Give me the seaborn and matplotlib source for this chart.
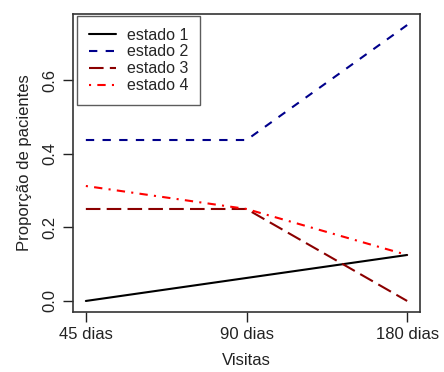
import matplotlib
matplotlib.use("Agg")
import matplotlib.pyplot as plt
import seaborn as sns
import pandas as pd

visitas = ["45 dias", "90 dias", "180 dias"]
estado_1 = [0.0, 0.0625, 0.125]
estado_2 = [0.4375, 0.4375, 0.75]
estado_3 = [0.25, 0.25, 0.0]
estado_4 = [0.3125, 0.25, 0.125]
estados = ["estado 1", "estado 2", "estado 3", "estado 4"]

sns.set_style("ticks")
plt.rcParams["font.family"] = ["Liberation Sans", "DejaVu Sans"]

rows = []
for nome, vals in zip(estados, [estado_1, estado_2, estado_3, estado_4]):
    for i, (v, y) in enumerate(zip(visitas, vals)):
        rows.append({"pos": i + 1, "Visitas": v, "prop": y, "estado": nome})
df = pd.DataFrame(rows)

cores = {"estado 1": "black", "estado 2": "#00008B",
         "estado 3": "#8B0000", "estado 4": "red"}
tracos = {"estado 1": "", "estado 2": (4, 4),
          "estado 3": (7, 3), "estado 4": (1, 3, 4, 3)}

fig = plt.figure(figsize=(4.44, 3.72), dpi=100)
ax = fig.add_axes([73 / 444, 1 - 312 / 372, 347 / 444, 298 / 372])
sns.lineplot(data=df, x="pos", y="prop", hue="estado", style="estado",
             palette=cores, dashes=tracos, linewidth=1.5, ax=ax,
             legend=False)

ax.set_xlim(0.92, 3.08)
ax.set_ylim(-0.03, 0.78)
ax.set_xticks([1, 2, 3])
ax.set_xticklabels(visitas, fontsize=12)
ax.set_yticks([0.0, 0.2, 0.4, 0.6])
ax.set_yticklabels(["0.0", "0.2", "0.4", "0.6"], fontsize=12,
                   rotation=90, va="center")
ax.tick_params(direction="out", length=7, width=1, colors="#222222",
               labelcolor="#222222", pad=4)
for s in ax.spines.values():
    s.set_visible(True)
    s.set_linewidth(1.2)
    s.set_color("#333333")
ax.set_xlabel("Visitas", fontsize=12, color="#222222", labelpad=8)
ax.set_ylabel("Proporção de pacientes", fontsize=12, color="#222222",
              labelpad=8)

handles = [plt.Line2D([], [], color=cores[e], linewidth=1.5,
                      dashes=tracos[e] if tracos[e] else (None, None),
                      linestyle="-" if not tracos[e] else "--")
           for e in estados]
leg = ax.legend(handles, estados, loc="upper left", fontsize=11.5,
                bbox_to_anchor=(77 / 444, 1 - 16 / 372),
                bbox_transform=fig.transFigure,
                frameon=True, fancybox=False, edgecolor="#333333",
                borderaxespad=0.0, handlelength=1.7, labelspacing=0.12,
                borderpad=0.72, handletextpad=0.7)
leg.get_frame().set_linewidth(1.0)

fig.savefig("out.png", dpi=100)
